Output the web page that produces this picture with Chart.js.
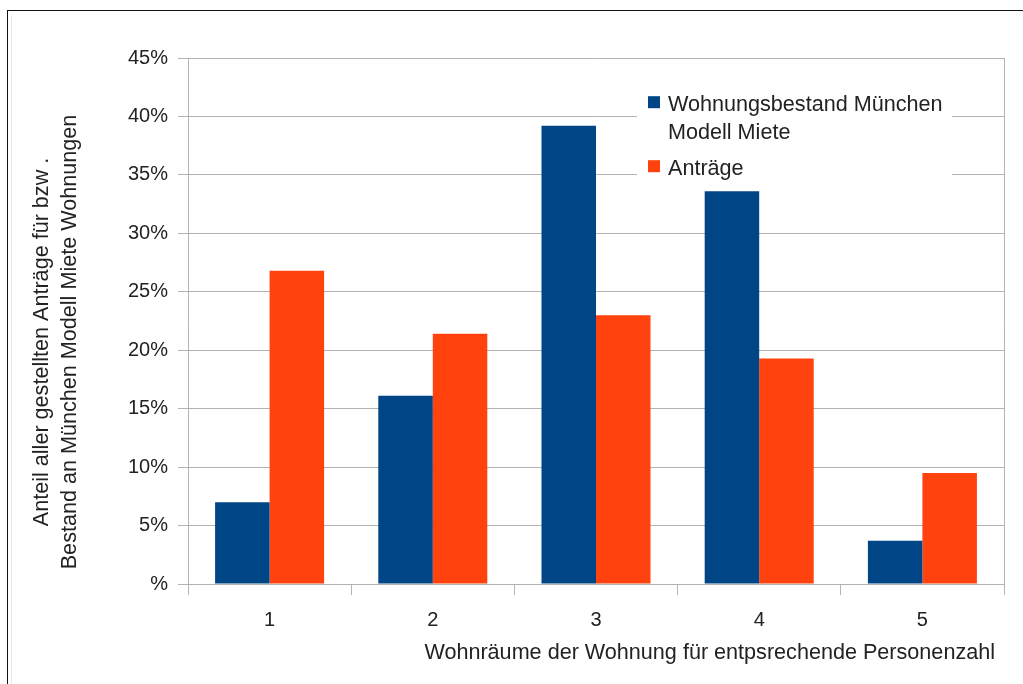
<!doctype html>
<html>
  <head>
    <meta charset="utf-8">
    <title>Wohnräume - München Modell Miete</title>
    <style>
      html, body {
	  margin: 0;
	  padding: 0;
	  background: #fff;
	  overflow: hidden;
      }
      #wrap {
	  position: relative;
	  width: 1023px;
	  height: 684px;
      }
      #frame {
	  position: absolute;
	  left: 7px;
	  top: 10px;
	  width: 1100px;
	  height: 800px;
	  border-left: 1px solid #111;
	  border-top: 1px solid #111;
	  pointer-events: none;
      }
      #frame2 {
	  position: absolute;
	  left: 11px;
	  top: 15px;
	  width: 1100px;
	  height: 800px;
	  border-left: 1px solid #e3e8ef;
	  pointer-events: none;
      }
    </style>
    <script src="https://cdn.jsdelivr.net/npm/chart.js@4/dist/chart.umd.min.js"></script>
  </head>
  <body>
    <div id="wrap">
      <canvas id="chart" width="1023" height="684"></canvas>
      <div id="frame"></div>
      <div id="frame2"></div>
    </div>
  </body>
  <script>
    // data (percent)
    const categories = ["1", "2", "3", "4", "5"];
    const bestand = [7.0, 16.1, 39.2, 33.6, 3.7];
    const antraege = [26.8, 21.4, 23.0, 19.3, 9.5];
    const seriesNames = [["Wohnungsbestand München", "Modell Miete"], ["Anträge"]];
    const seriesColors = ["#004586", "#ff420e"];
    const yTitle = ["Anteil aller gestellten Anträge für bzw .", "Bestand an München Modell Miete Wohnungen"];
    const xTitle = "Wohnräume der Wohnung für entpsrechende Personenzahl";

    const FONT = '"Liberation Sans", Arial, sans-serif';
    const TEXT = "#222";
    const GRID = "#b3b3b3";
    const TITLE_FONT = "21.6px " + FONT;
    Chart.defaults.font.family = FONT;
    Chart.defaults.color = TEXT;

    // axis titles, legend box inside the plot and the right plot edge
    const extras = {
	id: "extras",
	afterDatasetsDraw(chart) {
	    const ctx = chart.ctx;
	    const a = chart.chartArea;
	    ctx.save();
	    ctx.strokeStyle = GRID;
	    ctx.lineWidth = 1;
	    ctx.beginPath();
	    ctx.moveTo(a.right + 0.5, a.top);
	    ctx.lineTo(a.right + 0.5, a.bottom + 11);
	    ctx.stroke();

	    // legend
	    ctx.fillStyle = "#fff";
	    ctx.fillRect(a.left + 449, a.top + 24, 315, 104);
	    ctx.font = TITLE_FONT;
	    ctx.textBaseline = "alphabetic";
	    let base = a.top + 52.7;
	    chart.data.datasets.forEach((ds, i) => {
		ctx.fillStyle = ds.backgroundColor;
		ctx.fillRect(a.left + 460, base - 14.5, 12, 12);
		ctx.fillStyle = TEXT;
		seriesNames[i].forEach(line => {
		    ctx.fillText(line, a.left + 480, base);
		    base += 28;
		});
		base += 8;
	    });

	    // x title, right aligned a bit inside the plot edge
	    ctx.textAlign = "right";
	    ctx.fillText(xTitle, a.right - 9, a.bottom + 75);

	    // y title, two centred lines
	    ctx.translate(42, a.top + 284);
	    ctx.rotate(-Math.PI / 2);
	    ctx.textAlign = "center";
	    ctx.textBaseline = "middle";
	    yTitle.forEach((line, i) => ctx.fillText(line, 0, i * 28));
	    ctx.restore();
	}
    };

    new Chart(document.getElementById("chart"), {
	type: "bar",
	data: {
	    labels: categories,
	    datasets: [{
		label: seriesNames[0].join(" "),
		data: bestand,
		backgroundColor: seriesColors[0],
		categoryPercentage: 0.668,
		barPercentage: 1.0,
	    }, {
		label: seriesNames[1].join(" "),
		data: antraege,
		backgroundColor: seriesColors[1],
		categoryPercentage: 0.668,
		barPercentage: 1.0,
	    }]
	},
	options: {
	    responsive: false,
	    animation: false,
	    layout: { padding: { left: 0, top: 58, right: 19, bottom: 0 } },
	    plugins: {
		legend: { display: false },
		tooltip: { enabled: false },
	    },
	    scales: {
		x: {
		    afterFit: s => { s.height = 100; },
		    grid: {
			offset: true,
			drawOnChartArea: false,
			tickLength: 11,
			color: GRID,
			tickColor: GRID,
		    },
		    border: { color: GRID },
		    ticks: { font: { size: 20 }, color: TEXT, padding: 13 },
		},
		y: {
		    min: 0,
		    max: 45,
		    afterFit: s => { s.width = 188; },
		    grid: { color: GRID, tickLength: 10 },
		    border: { color: GRID },
		    ticks: {
			stepSize: 5,
			font: { size: 20 },
			color: TEXT,
			padding: 10,
			callback: v => v === 0 ? "%" : v + "%",
		    },
		},
	    },
	},
	plugins: [extras],
    });
  </script>
</html>
